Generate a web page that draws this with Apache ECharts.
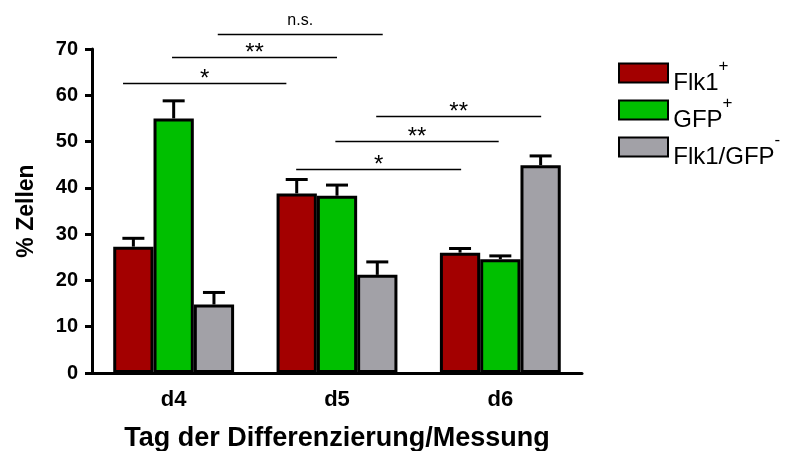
<!DOCTYPE html>
<html>
<head>
<meta charset="utf-8">
<script src="https://cdn.jsdelivr.net/npm/echarts@6/dist/echarts.min.js"></script>
<style>
  html, body { margin: 0; padding: 0; background: #fff; }
  #chart { width: 787px; height: 451px; }
</style>
</head>
<body>
<div id="chart"></div>
<script>
// Daten
var tage = ['d4', 'd5', 'd6'];
var flk1 = [27.3, 38.8, 26.0];
var flk1Err = [1.8, 3.0, 0.9];
var gfp = [55.0, 38.3, 24.6];
var gfpErr = [3.8, 2.3, 0.7];
var neg = [14.8, 21.2, 44.9];
var negErr = [2.6, 2.8, 2.0];
var yTicks = [0, 10, 20, 30, 40, 50, 60, 70];
// Signifikanz: [von, bis (Kategorie-Einheiten), Hoehe in %, Text]
var sigBars = [
    [0.27, 1.28, 73.2, 'n.s.'],
    [-0.01, 1.0, 68.3, '**'],
    [-0.31, 0.69, 62.6, '*'],
    [1.24, 2.25, 55.5, '**'],
    [0.99, 1.99, 50.1, '**'],
    [0.75, 1.76, 44.1, '*']
];

var farben = ['#a30000', '#00bf00', '#a2a1a7'];
var namen = ['Flk1', 'GFP', 'Flk1/GFP'];
var sup = ['+', '+', '-'];
var gap = 0.26;

var myChart = echarts.init(document.getElementById('chart'));

var errData = [];
[[flk1, flk1Err], [gfp, gfpErr], [neg, negErr]].forEach(function (p, s) {
    p[0].forEach(function (v, i) {
        errData.push([i, v, v + p[1][i], s]);
    });
});

function barSeries(name, data, color) {
    return {
        name: name,
        type: 'bar',
        data: data,
        barGap: '0%',
        barCategoryGap: (gap * 100) + '%',
        itemStyle: { color: color, borderColor: '#000', borderWidth: 3 },
        emphasis: { disabled: true }
    };
}

var option = {
    animation: false,
    textStyle: { fontFamily: 'Liberation Sans, Arial, sans-serif' },
    grid: { left: 92, right: 205, top: 49, bottom: 78, outerBoundsMode: 'none' },
    legend: {
        orient: 'vertical',
        left: 613,
        top: 53,
        itemWidth: 49,
        itemHeight: 19,
        itemGap: 0,
        icon: 'rect',
        data: namen,
        formatter: function (n) {
            return '{h| }{t|' + n + '}{s|' + sup[namen.indexOf(n)] + '}';
        },
        textStyle: {
            padding: [7, 0, 0, 0],
            rich: {
                h: { fontSize: 1, lineHeight: 37 },
                t: { fontSize: 24, color: '#000', lineHeight: 24, verticalAlign: 'bottom' },
                s: { fontSize: 17, color: '#000', lineHeight: 12, verticalAlign: 'top' }
            }
        }
    },
    xAxis: {
        type: 'category',
        data: tage,
        axisLine: { lineStyle: { color: '#000', width: 3 } },
        axisTick: { alignWithLabel: true, length: 6, lineStyle: { color: '#000', width: 3 } },
        axisLabel: { color: '#000', fontSize: 22, fontWeight: 'bold', margin: 16 },
        name: 'Tag der Differenzierung/Messung',
        nameLocation: 'middle',
        nameGap: 52,
        nameTextStyle: { color: '#000', fontSize: 27, fontWeight: 'bold' }
    },
    yAxis: {
        type: 'value',
        min: yTicks[0],
        max: yTicks[yTicks.length - 1],
        interval: 10,
        splitLine: { show: false },
        axisLine: { show: true, lineStyle: { color: '#000', width: 3 } },
        axisTick: { show: true, length: 7, lineStyle: { color: '#000', width: 3 } },
        axisLabel: { color: '#000', fontSize: 20, fontWeight: 'bold', margin: 14 },
        name: '% Zellen',
        nameLocation: 'middle',
        nameGap: 54,
        nameTextStyle: { color: '#000', fontSize: 23, fontWeight: 'bold' }
    },
    series: [
        barSeries(namen[0], flk1, farben[0]),
        barSeries(namen[1], gfp, farben[1]),
        barSeries(namen[2], neg, farben[2]),
        {
            type: 'custom',
            data: errData,
            z: 3,
            silent: true,
            renderItem: function (params, api) {
                var band = api.size([1, 0])[0];
                var bw = band * (1 - gap) / 3;
                var s = api.value(3);
                var base = api.coord([api.value(0), api.value(1)]);
                var top = api.coord([api.value(0), api.value(2)]);
                var x = base[0] + (s - 1) * bw;
                var cap = 11;
                var st = { stroke: '#000', lineWidth: 3 };
                return {
                    type: 'group',
                    children: [
                        { type: 'line', shape: { x1: x, y1: base[1], x2: x, y2: top[1] }, style: st },
                        { type: 'line', shape: { x1: x - cap, y1: top[1], x2: x + cap, y2: top[1] }, style: st }
                    ]
                };
            }
        },
        {
            type: 'custom',
            data: sigBars,
            silent: true,
            clip: false,
            renderItem: function (params, api) {
                var band = api.size([1, 0])[0];
                var p0 = api.coord([0, api.value(2)]);
                var x1 = p0[0] + api.value(0) * band;
                var x2 = p0[0] + api.value(1) * band;
                var y = Math.round(p0[1]) + 0.5;
                var label = sigBars[params.dataIndex][3];
                var isNs = label === 'n.s.';
                return {
                    type: 'group',
                    children: [
                        { type: 'line', shape: { x1: x1, y1: y, x2: x2, y2: y }, style: { stroke: '#000', lineWidth: 1.5 } },
                        {
                            type: 'text',
                            style: {
                                text: label,
                                x: (x1 + x2) / 2,
                                y: isNs ? y - 6 : y + 8,
                                align: 'center',
                                verticalAlign: 'bottom',
                                font: isNs ? '16px Liberation Sans, Arial' : '24px Liberation Sans, Arial',
                                fill: '#000'
                            }
                        }
                    ]
                };
            }
        }
    ]
};
myChart.setOption(option);
</script>
</body>
</html>
